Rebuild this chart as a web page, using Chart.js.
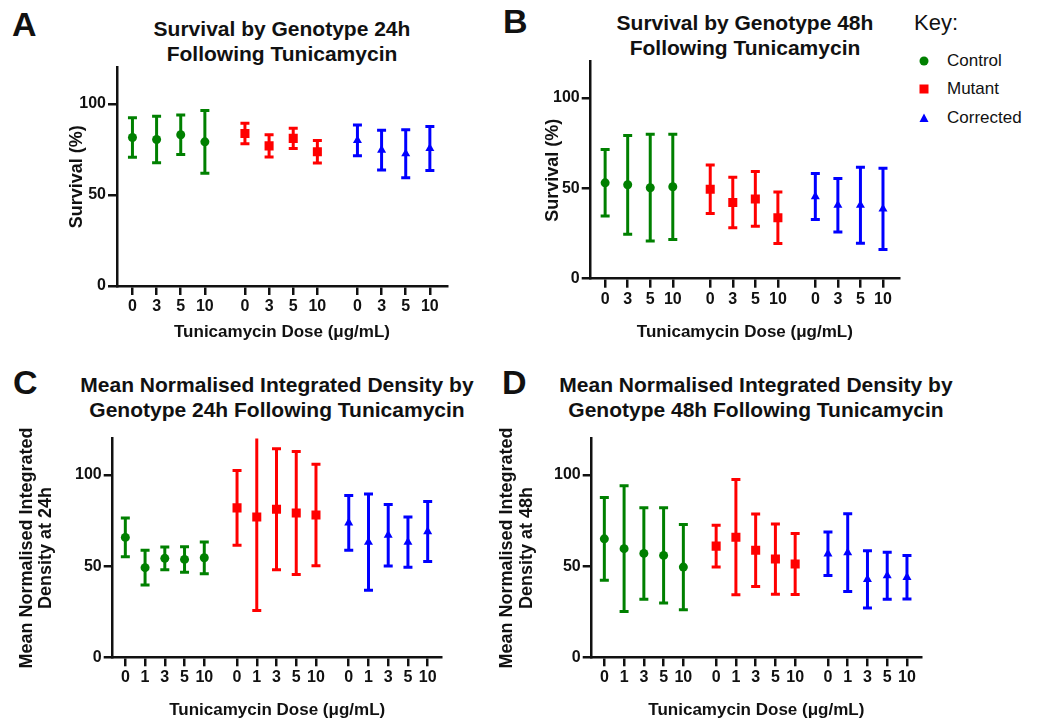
<!DOCTYPE html>
<html>
<head>
<meta charset="utf-8">
<script src="https://cdn.jsdelivr.net/npm/chart.js"></script>
<style>
  body { margin: 0; background: #fff; width: 1057px; height: 721px; position: relative; overflow: hidden;
         font-family: Arial, "Liberation Sans", sans-serif; color: #111; }
  canvas { position: absolute; }
  .title { position: absolute; width: 600px; text-align: center; font-weight: bold; font-size: 21px; line-height: 25px; }
  .letter { position: absolute; font-weight: bold; font-size: 34px; line-height: 34px; }
  .key { position: absolute; font-size: 22px; line-height: 26px; left: 914px; top: 10px; }
  .item { position: absolute; left: 916px; font-size: 17px; line-height: 20px; height: 20px; }
  .item svg { position: absolute; left: 0; top: 5px; }
  .item span { position: absolute; left: 31px; white-space: nowrap; }
</style>
</head>
<body>
<div class="letter" style="left:12px;top:7px">A</div>
<div class="letter" style="left:503px;top:4px">B</div>
<div class="letter" style="left:13px;top:365px">C</div>
<div class="letter" style="left:502px;top:365px">D</div>

<div class="title" style="left:-18px;top:16px">Survival by Genotype 24h<br>Following Tunicamycin</div>
<div class="title" style="left:445px;top:10px">Survival by Genotype 48h<br>Following Tunicamycin</div>
<div class="title" style="left:-23px;top:372px">Mean Normalised Integrated Density by<br>Genotype 24h Following Tunicamycin</div>
<div class="title" style="left:456px;top:372px">Mean Normalised Integrated Density by<br>Genotype 48h Following Tunicamycin</div>

<div class="key">Key:</div>
<div id="legend"></div>

<canvas id="chartA" width="460" height="294" style="left:0;top:56px"></canvas>
<canvas id="chartB" width="410" height="300" style="left:500px;top:50px"></canvas>
<canvas id="chartC" width="455" height="294" style="left:0;top:427px"></canvas>
<canvas id="chartD" width="445" height="294" style="left:488px;top:427px"></canvas>

<script>
// categories
const genotypes = ['Control', 'Mutant', 'Corrected'];
const survivalDoses = ['0', '3', '5', '10'];
const densityDoses = ['0', '1', '3', '5', '10'];
const yTickValues = [0, 50, 100];

// A: survival 24h (mean, SD)
const surv24Control = [81.6, 80.5, 83.1, 79.2];
const surv24ControlSD = [10.9, 12.8, 10.8, 17.2];
const surv24Mutant = [83.8, 77.0, 81.1, 73.8];
const surv24MutantSD = [5.6, 6.1, 5.6, 6.2];
const surv24Corrected = [80.0, 74.7, 72.7, 75.6];
const surv24CorrectedSD = [8.5, 10.9, 13.2, 12.1];

// B: survival 48h
const surv48Control = [53.0, 51.9, 50.3, 50.8];
const surv48ControlSD = [18.4, 27.3, 29.5, 29.1];
const surv48Mutant = [49.4, 42.1, 44.1, 33.7];
const surv48MutantSD = [13.4, 14.0, 15.1, 14.2];
const surv48Corrected = [45.4, 40.6, 40.6, 38.6];
const surv48CorrectedSD = [12.7, 14.8, 21.0, 22.5];

// C: integrated density 24h
const dens24Control = [65.8, 49.2, 54.3, 53.7, 54.6];
const dens24ControlSD = [10.6, 9.5, 6.2, 7.0, 8.7];
const dens24Mutant = [82.0, 77.0, 81.2, 79.2, 78.1];
const dens24MutantSD = [20.5, 51.3, 33.2, 33.7, 27.8];
const dens24Corrected = [73.8, 63.2, 67.0, 63.2, 69.0];
const dens24CorrectedSD = [15.0, 26.4, 16.9, 13.8, 16.5];

// D: integrated density 48h
const dens48Control = [65.0, 59.6, 57.0, 55.9, 49.5];
const dens48ControlSD = [22.7, 34.5, 25.1, 26.1, 23.4];
const dens48Mutant = [61.0, 65.9, 58.7, 53.9, 51.2];
const dens48MutantSD = [11.5, 31.6, 19.9, 19.3, 16.7];
const dens48Corrected = [56.8, 57.4, 42.8, 44.8, 43.9];
const dens48CorrectedSD = [11.9, 21.3, 15.7, 12.9, 11.9];

const colors = ['#008000', '#ff0000', '#0000ff'];
const styles = ['circle', 'rect', 'triangle'];
const radii = [4.5, 6.4, 5.2];
const GAP = 0.66;
const FONT = 'Arial, "Liberation Sans", sans-serif';
const INK = '#111';

// error bars drawn from the y scale
const errorBars = {
  id: 'errorBars',
  beforeDatasetsDraw(chart) {
    const {ctx, chartArea, scales: {y}} = chart;
    ctx.save();
    ctx.beginPath();
    ctx.rect(chartArea.left, chartArea.top, chartArea.width, chartArea.height);
    ctx.clip();
    ctx.lineWidth = 3;
    chart.data.datasets.forEach((ds, di) => {
      const meta = chart.getDatasetMeta(di);
      ctx.strokeStyle = ds.borderColor;
      meta.data.forEach((pt, i) => {
        const m = ds.data[i].y, e = ds.sd[i];
        const yt = y.getPixelForValue(m + e), yb = y.getPixelForValue(m - e);
        ctx.beginPath();
        ctx.moveTo(pt.x, yt); ctx.lineTo(pt.x, yb);
        ctx.moveTo(pt.x - 4.5, yt); ctx.lineTo(pt.x + 4.5, yt);
        ctx.moveTo(pt.x - 4.5, yb); ctx.lineTo(pt.x + 4.5, yb);
        ctx.stroke();
      });
    });
    ctx.restore();
  }
};

function makePanel(id, doses, means, sds, yTitle, box) {
  const n = doses.length;
  const positions = [];
  const labels = [];
  genotypes.forEach((g, gi) => doses.forEach((d, i) => {
    positions.push(gi * (n + GAP) + i);
    labels.push(d);
  }));
  const datasets = genotypes.map((g, gi) => ({
    label: g,
    data: means[gi].map((v, i) => ({x: gi * (n + GAP) + i, y: v})),
    sd: sds[gi],
    backgroundColor: colors[gi],
    borderColor: colors[gi],
    borderWidth: 0,
    pointStyle: styles[gi],
    pointRadius: radii[gi],
    pointHoverRadius: radii[gi]
  }));
  new Chart(document.getElementById(id), {
    type: 'scatter',
    data: {datasets},
    plugins: [errorBars],
    options: {
      responsive: false,
      animation: false,
      events: [],
      layout: {padding: box.pad},
      plugins: {legend: {display: false}, tooltip: {enabled: false}},
      scales: {
        x: {
          type: 'linear',
          min: -0.64,
          max: positions[positions.length - 1] + 0.71,
          afterBuildTicks: s => { s.ticks = positions.map(v => ({value: v})); },
          afterFit: s => { s.height = box.xh; },
          grid: {display: true, drawOnChartArea: false, drawTicks: true, tickLength: 9, color: INK, lineWidth: 2.5},
          border: {display: true, color: INK, width: 2.5},
          ticks: {
            autoSkip: false, maxRotation: 0, padding: 2, color: INK,
            font: {family: FONT, size: 16, weight: 'bold'},
            callback: (v, i) => labels[i]
          },
          title: {
            display: true, text: 'Tunicamycin Dose (μg/mL)', color: INK,
            font: {family: FONT, size: 17, weight: 'bold'},
            padding: {top: 0, bottom: box.xtp}
          }
        },
        y: {
          min: 0, max: 120,
          afterBuildTicks: s => { s.ticks = yTickValues.map(v => ({value: v})); },
          afterFit: s => { s.width = box.yw; },
          grid: {display: true, drawOnChartArea: false, drawTicks: true, tickLength: 9, color: INK, lineWidth: 2.5},
          border: {display: true, color: INK, width: 2.5},
          ticks: {padding: 2, color: INK, font: {family: FONT, size: 16, weight: 'bold'}},
          title: {
            display: true, text: yTitle, color: INK,
            font: {family: FONT, size: 18, weight: 'bold', lineHeight: 1.07},
            padding: {top: box.ytp, bottom: 0}
          }
        }
      }
    }
  });
}

makePanel('chartA', survivalDoses,
  [surv24Control, surv24Mutant, surv24Corrected],
  [surv24ControlSD, surv24MutantSD, surv24CorrectedSD],
  'Survival (%)',
  {pad: {left: 60, top: 10, right: 13, bottom: 0}, yw: 57, xh: 64, xtp: 7, ytp: 7.5});

makePanel('chartB', survivalDoses,
  [surv48Control, surv48Mutant, surv48Corrected],
  [surv48ControlSD, surv48MutantSD, surv48CorrectedSD],
  'Survival (%)',
  {pad: {left: 36, top: 10, right: 11, bottom: 0}, yw: 54.7, xh: 71.3, xtp: 7, ytp: 7.5});

makePanel('chartC', densityDoses,
  [dens24Control, dens24Mutant, dens24Corrected],
  [dens24ControlSD, dens24MutantSD, dens24CorrectedSD],
  ['Mean Normalised Integrated', 'Density at 24h'],
  {pad: {left: 12, top: 10.7, right: 13.3, bottom: 0}, yw: 100.7, xh: 63.7, xtp: 0.5, ytp: 5.1});

makePanel('chartD', densityDoses,
  [dens48Control, dens48Mutant, dens48Corrected],
  [dens48ControlSD, dens48MutantSD, dens48CorrectedSD],
  ['Mean Normalised Integrated', 'Density at 48h'],
  {pad: {left: 4, top: 10.7, right: 12, bottom: 0}, yw: 99.7, xh: 63.7, xtp: 0.5, ytp: 5.7});

// shared key
const legendTops = [51, 79, 108];
const shapes = [
  '<circle cx="8" cy="5" r="4.5" fill="#008000"/>',
  '<rect x="3.5" y="0.5" width="9" height="9" fill="#ff0000"/>',
  '<polygon points="8,0.5 12.5,9 3.5,9" fill="#0000ff"/>'
];
document.getElementById('legend').innerHTML = genotypes.map((g, i) =>
  `<div class="item" style="top:${legendTops[i]}px"><svg width="16" height="10">${shapes[i]}</svg><span>${g}</span></div>`
).join('');
</script>
</body>
</html>
